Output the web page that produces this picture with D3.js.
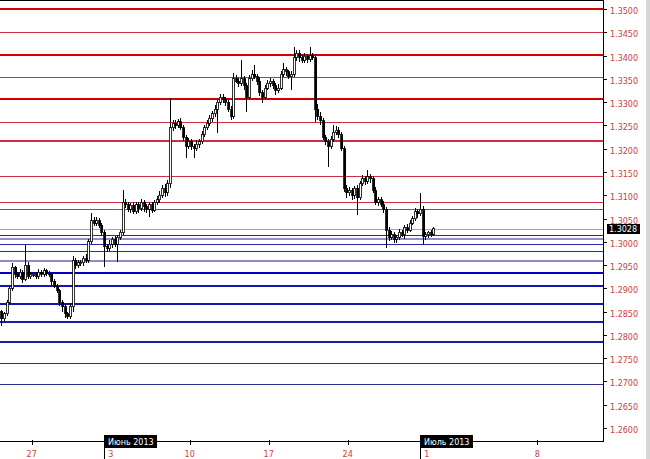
<!DOCTYPE html>
<html>
<head>
<meta charset="utf-8">
<script src="https://d3js.org/d3.v7.min.js"></script>
<style>
	body { margin: 0; background: #fff; }
	svg { display: block; font-family: "DejaVu Sans", Verdana, sans-serif; }
</style>
</head>
<body>
<div id="fig-candles"><svg width="650" height="459"></svg></div>
<script>
// H4 bars, 6 per trading day, starting 23 May 2013
const first_open = 1.2850;
const closes = [
	1.2835, 1.2845, 1.2870, 1.2900, 1.2945, 1.2930,
	1.2925, 1.2935, 1.2920, 1.2950, 1.2925, 1.2930,
	1.2930, 1.2925, 1.2935, 1.2930, 1.2938, 1.2932,
	1.2930, 1.2915, 1.2905, 1.2895, 1.2870, 1.2860,
	1.2845, 1.2840, 1.2860, 1.2960, 1.2950, 1.2955,
	1.2955, 1.2965, 1.2960, 1.3000, 1.3045, 1.3040,
	1.3045, 1.3035, 1.3020, 1.2990, 1.2985, 1.2995,
	1.3005, 1.2995, 1.3010, 1.3020, 1.3085, 1.3080,
	1.3070, 1.3078, 1.3065, 1.3080, 1.3072, 1.3085,
	1.3075, 1.3070, 1.3080, 1.3068, 1.3085, 1.3090,
	1.3100, 1.3115, 1.3105, 1.3125, 1.3245, 1.3255,
	1.3250, 1.3258, 1.3245, 1.3225, 1.3205, 1.3215,
	1.3205, 1.3200, 1.3210, 1.3215, 1.3230, 1.3245,
	1.3255, 1.3265, 1.3275, 1.3285, 1.3300, 1.3310,
	1.3305, 1.3300, 1.3285, 1.3270, 1.3350, 1.3345,
	1.3340, 1.3350, 1.3335, 1.3310, 1.3350, 1.3360,
	1.3355, 1.3345, 1.3320, 1.3310, 1.3330, 1.3340,
	1.3345, 1.3335, 1.3325, 1.3330, 1.3360, 1.3370,
	1.3365, 1.3355, 1.3360, 1.3395, 1.3405, 1.3395,
	1.3390, 1.3398, 1.3392, 1.3400, 1.3395, 1.3285,
	1.3270, 1.3260, 1.3225, 1.3215, 1.3205, 1.3220,
	1.3235, 1.3240, 1.3230, 1.3200, 1.3115, 1.3105,
	1.3110, 1.3100, 1.3115, 1.3095, 1.3125, 1.3135,
	1.3130, 1.3140, 1.3135, 1.3110, 1.3085, 1.3090,
	1.3080, 1.3070, 1.3025, 1.3010, 1.3015, 1.3005,
	1.3010, 1.3020, 1.3015, 1.3030, 1.3025, 1.3040,
	1.3050, 1.3065, 1.3060, 1.3070, 1.3012, 1.3015,
	1.3020, 1.3016, 1.3028
];
// wick length above / below the body, in pips
const wick_up = [
	3, 4, 6, 8, 10, 4,   5, 6, 4, 43, 6, 5,   4, 5, 6, 4, 5, 4,
	5, 4, 6, 5, 4, 6,    6, 5, 8, 10, 6, 5,   6, 5, 8, 6, 17, 8,
	8, 6, 5, 6, 5, 8,    6, 8, 5, 6, 26, 6,   6, 5, 8, 6, 5, 6,
	5, 6, 5, 6, 5, 8,    8, 6, 10, 8, 64, 6,  6, 5, 8, 6, 5, 8,
	6, 5, 8, 6, 8, 6,    6, 8, 6, 8, 6, 8,    8, 6, 5, 6, 12, 8,
	6, 40, 6, 5, 8, 10,  20, 6, 8, 5, 6, 8,   6, 5, 6, 8, 6, 14,
	6, 5, 6, 23, 8, 6,   6, 8, 5, 18, 6, 5,   10, 8, 6, 5, 6, 8,
	15, 8, 6, 5, 6, 8,   8, 6, 5, 8, 6, 8,    6, 14, 5, 6, 8, 6,
	6, 8, 5, 6, 8, 5,    5, 8, 6, 5, 8, 6,    6, 8, 5, 35, 6, 5,
	4, 6, 3
];
const wick_down = [
	15, 5, 4, 6, 5, 8,   6, 5, 8, 5, 4, 6,    5, 6, 4, 6, 5, 5,
	6, 8, 5, 6, 8, 10,   8, 5, 6, 10, 8, 6,   6, 8, 5, 6, 5, 6,
	6, 5, 8, 44, 6, 5,   8, 6, 38, 6, 5, 8,   5, 8, 6, 5, 10, 6,
	10, 8, 17, 6, 5, 6,  6, 5, 8, 6, 10, 8,   8, 6, 5, 8, 25, 6,
	8, 20, 6, 8, 5, 6,   5, 6, 8, 6, 51, 6,   6, 8, 6, 8, 6, 5,
	8, 6, 8, 31, 6, 5,   6, 8, 6, 12, 6, 5,   8, 6, 10, 6, 5, 6,
	8, 6, 29, 5, 6, 8,   6, 5, 8, 6, 5, 27,   8, 10, 6, 8, 45, 6,
	6, 5, 8, 6, 8, 10,   6, 10, 8, 38, 6, 5,  8, 6, 8, 5, 6, 8,
	6, 8, 38, 8, 6, 8,   8, 6, 5, 8, 6, 5,    5, 6, 8, 5, 19, 8,
	6, 5, 3
];

// horizontal levels drawn on the chart
const resistance_levels = [1.3501, 1.3450, 1.3401, 1.3353, 1.3306, 1.3258, 1.3216, 1.3141, 1.3086, 1.3070];
const support_levels = [1.3015, 1.3005, 1.2995, 1.2980, 1.2959, 1.2934, 1.2904, 1.2866, 1.2828, 1.2785, 1.2739, 1.2694];
const last_price = 1.3028;

const price_ticks = [1.2600, 1.2650, 1.2700, 1.2750, 1.2800, 1.2850, 1.2900, 1.2950, 1.3000,
	1.3050, 1.3100, 1.3150, 1.3200, 1.3250, 1.3300, 1.3350, 1.3400, 1.3450, 1.3500];
// day index counted from 23 May (weekends skipped in the history part)
const date_tick_days = [2, 7, 12, 17, 22, 27, 34];
const date_tick_labels = ["27", "3", "10", "17", "24", "1", "8"];
const month_days = [7, 27];
const month_labels = ["Июнь 2013", "Июль 2013"];

const BARS_PER_DAY = 6;

function whenDocumentLoaded(action) {
	if (document.readyState === "loading") {
		document.addEventListener("DOMContentLoaded", action);
	} else {
		action();
	}
}

class CandleChart {

	constructor(figure_element_id) {
		this.svg = d3.select('#' + figure_element_id + ' svg');

		const plot_right = 603;
		const plot_bottom = 441;

		// Scales
		const x = d3.scaleLinear().domain([0, 38]).range([0.1, 0.1 + 38 * 15.8]);
		const y = d3.scaleLinear().domain([1.26, 1.35]).range([428, 9]);

		this.svg.append('rect')
			.attr('width', 650).attr('height', 459)
			.attr('fill', '#fff');

		// window edge on the right
		this.svg.append('rect')
			.attr('x', 646).attr('width', 4).attr('height', 459)
			.attr('fill', '#d6d6d6');

		// Levels
		const red_style = [
			[2, '#d40000'], [1, '#cc3040'], [2, '#d40000'], [1, '#cc3040'], [2, '#cc0000'],
			[1, '#cc3040'], [1.3, '#c83040'], [1, '#cc3040'], [1, '#cc3040'], [1, '#cc3040']
		];
		const blue_style = [
			[1, '#2a2aa8'], [1.3, '#9090c8'], [1, '#2a2aa8'], [1, '#2a2aa8'], [1.5, '#8c8cc8'],
			[2.5, '#0000c0'], [2, '#1414b0'], [2, '#1414b0'], [1.5, '#1c1ca0'], [1.5, '#1c1ca0'],
			[1, '#2c2c94'], [1, '#2c2c94']
		];
		const levels = this.svg.append('g').attr('shape-rendering', 'crispEdges');
		const drawLevel = (price, style) => {
			const yy = style[0] % 2 === 1 ? Math.round(y(price)) + 0.5 : Math.round(y(price));
			levels.append('line')
				.attr('x1', 0).attr('x2', plot_right)
				.attr('y1', yy).attr('y2', yy)
				.attr('stroke', style[1])
				.attr('stroke-width', style[0]);
		};
		resistance_levels.forEach((p, i) => drawLevel(p, red_style[i]));
		support_levels.forEach((p, i) => drawLevel(p, blue_style[i]));
		drawLevel(last_price, [1, '#a8a8a8']);

		// Candles: open is the previous close
		let prev = first_open;
		const bars = closes.map((c, i) => {
			const o = prev;
			prev = c;
			return {
				i: i, o: o, c: c,
				h: Math.max(o, c) + wick_up[i] / 10000,
				l: Math.min(o, c) - wick_down[i] / 10000
			};
		});

		const candles = this.svg.append('g').attr('shape-rendering', 'crispEdges');
		const cx = d => Math.round(x((d.i + 0.5) / BARS_PER_DAY));

		candles.selectAll('line.wick').data(bars).join('line')
			.attr('class', 'wick')
			.attr('x1', d => cx(d) + 0.5).attr('x2', d => cx(d) + 0.5)
			.attr('y1', d => y(d.h)).attr('y2', d => y(d.l))
			.attr('stroke', '#000');

		candles.selectAll('rect.body').data(bars).join('rect')
			.attr('class', 'body')
			.attr('x', d => cx(d) - 0.5)
			.attr('y', d => y(Math.max(d.o, d.c)))
			.attr('width', 2)
			.attr('height', d => Math.max(1, y(Math.min(d.o, d.c)) - y(Math.max(d.o, d.c))))
			.attr('fill', d => d.c >= d.o ? '#fff' : '#000')
			.attr('stroke', '#000')
			.attr('stroke-width', 0.8);

		// Frame
		const frame = this.svg.append('g').attr('shape-rendering', 'crispEdges');
		frame.append('line').attr('x1', 0).attr('x2', plot_right + 0.5).attr('y1', 0.5).attr('y2', 0.5).attr('stroke', '#000');
		frame.append('line').attr('x1', plot_right + 0.5).attr('x2', plot_right + 0.5).attr('y1', 0).attr('y2', plot_bottom).attr('stroke', '#000');
		frame.append('line').attr('x1', 0).attr('x2', plot_right + 0.5).attr('y1', plot_bottom + 0.5).attr('y2', plot_bottom + 0.5).attr('stroke', '#000');

		// Price axis
		const y_axis = this.svg.append('g');
		y_axis.selectAll('line').data(price_ticks).join('line')
			.attr('shape-rendering', 'crispEdges')
			.attr('x1', plot_right).attr('x2', plot_right + 4)
			.attr('y1', d => Math.round(y(d)) + 0.5).attr('y2', d => Math.round(y(d)) + 0.5)
			.attr('stroke', '#000');
		y_axis.selectAll('text').data(price_ticks).join('text')
			.attr('x', 610)
			.attr('y', d => y(d) + 5)
			.attr('font-size', 8)
			.attr('fill', '#c84040')
			.text(d => d.toFixed(4));

		// current price marker
		y_axis.append('rect')
			.attr('x', 607).attr('y', Math.round(y(last_price)) - 5)
			.attr('width', 33).attr('height', 10)
			.attr('fill', '#000');
		y_axis.append('text')
			.attr('x', 609).attr('y', y(last_price) + 3.5)
			.attr('font-size', 8)
			.attr('fill', '#fff')
			.text(last_price.toFixed(4));

		// Date axis
		const x_axis = this.svg.append('g');
		x_axis.selectAll('line').data(date_tick_days).join('line')
			.attr('shape-rendering', 'crispEdges')
			.attr('x1', d => Math.round(x(d)) + 0.5).attr('x2', d => Math.round(x(d)) + 0.5)
			.attr('y1', plot_bottom - 1).attr('y2', plot_bottom + 4)
			.attr('stroke', '#000');
		x_axis.selectAll('text').data(date_tick_days).join('text')
			.attr('x', d => x(d))
			.attr('y', 457)
			.attr('text-anchor', 'middle')
			.attr('font-size', 8)
			.attr('fill', '#c84040')
			.text((d, i) => date_tick_labels[i]);

		// month separators
		month_days.forEach((d, i) => {
			const mx = Math.round(x(d)) - 7;
			x_axis.append('line')
				.attr('shape-rendering', 'crispEdges')
				.attr('x1', mx + 0.5).attr('x2', mx + 0.5)
				.attr('y1', 447).attr('y2', 459)
				.attr('stroke', '#000');
			x_axis.append('rect')
				.attr('x', mx).attr('y', 435)
				.attr('width', 53).attr('height', 13)
				.attr('fill', '#000');
			x_axis.append('text')
				.attr('x', mx + 4).attr('y', 445)
				.attr('font-size', 8)
				.attr('fill', '#fff')
				.text(month_labels[i]);
		});
	}
}

whenDocumentLoaded(() => {
	plot_object = new CandleChart('fig-candles');
});
</script>
</body>
</html>
